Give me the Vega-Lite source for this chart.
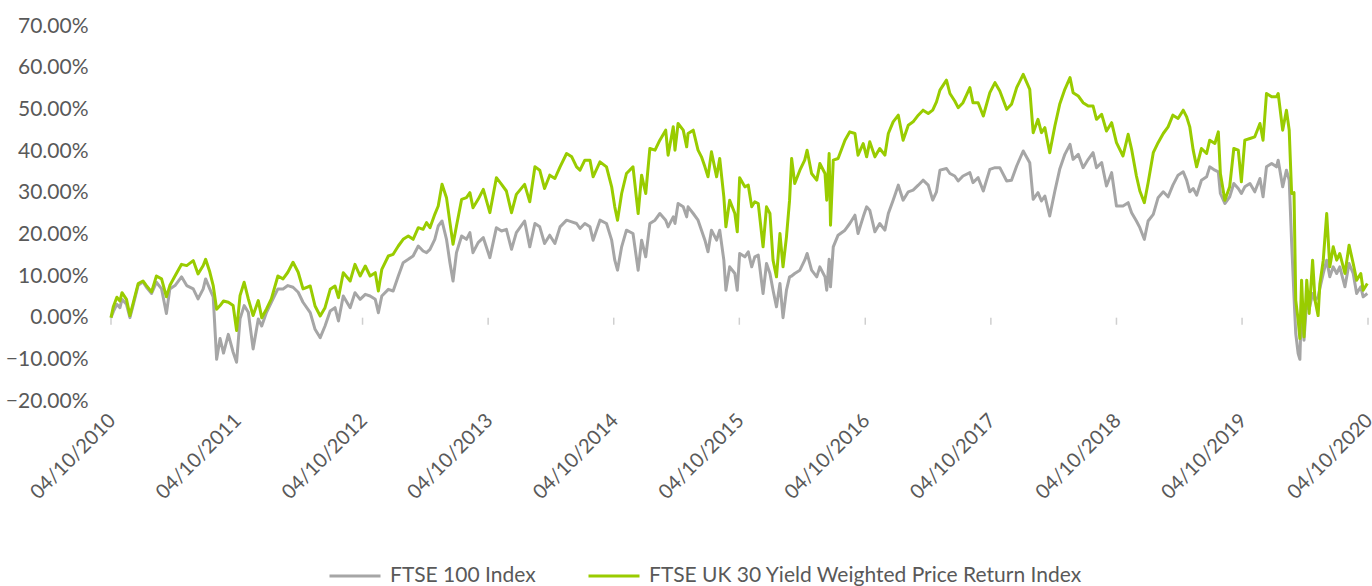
{
  "$schema": "https://vega.github.io/schema/vega-lite/v6.json",
  "width": 1257,
  "height": 375,
  "autosize": {"type": "none"},
  "padding": {"left": 111, "top": 26, "right": 4, "bottom": 185},
  "background": "white",
  "config": {
    "view": {"stroke": null},
    "font": "Lato",
    "axis": {"labelFont": "Lato", "labelFontSize": 21, "labelColor": "#595959"}
  },
  "encoding": {
    "x": {
      "field": "d",
      "type": "temporal",
      "title": null,
      "scale": {
        "type": "utc",
        "domain": [
          {"year": 2010, "month": 10, "date": 4, "utc": true},
          {"year": 2020, "month": 10, "date": 4, "utc": true}
        ]
      },
      "axis": {
        "domain": false,
        "ticks": false,
        "grid": false,
        "labelAngle": -45,
        "labelPadding": 9,
        "labelOffset": -6,
        "labelFontSize": 20,
        "labelFlush": false,
        "labelOverlap": false,
        "labelExpr": "utcFormat(datum.value, '%d/%m/%Y')",
        "values": [
          {"year": 2010, "month": 10, "date": 4, "utc": true},
          {"year": 2011, "month": 10, "date": 4, "utc": true},
          {"year": 2012, "month": 10, "date": 4, "utc": true},
          {"year": 2013, "month": 10, "date": 4, "utc": true},
          {"year": 2014, "month": 10, "date": 4, "utc": true},
          {"year": 2015, "month": 10, "date": 4, "utc": true},
          {"year": 2016, "month": 10, "date": 4, "utc": true},
          {"year": 2017, "month": 10, "date": 4, "utc": true},
          {"year": 2018, "month": 10, "date": 4, "utc": true},
          {"year": 2019, "month": 10, "date": 4, "utc": true},
          {"year": 2020, "month": 10, "date": 4, "utc": true}
        ]
      }
    }
  },
  "layer": [
    {
      "data": {"values": [
        {"d": "2010-10-04"}, {"d": "2011-10-04"}, {"d": "2012-10-04"}, {"d": "2013-10-04"},
        {"d": "2014-10-04"}, {"d": "2015-10-04"}, {"d": "2016-10-04"}, {"d": "2017-10-04"},
        {"d": "2018-10-04"}, {"d": "2019-10-04"}, {"d": "2020-10-04"}
      ]},
      "mark": {"type": "rule", "color": "#cfcfcf", "strokeWidth": 1.5},
      "encoding": {
        "y": {"datum": 0, "type": "quantitative"},
        "y2": {"datum": -1.7}
      }
    },
    {
      "data": {"values": [
        {"d": "2010-10-04", "f": 0, "g": 0},
        {"d": "2010-10-11", "f": 1.5, "g": 2.7},
        {"d": "2010-10-21", "f": 3.2, "g": 4.9},
        {"d": "2010-10-30", "f": 2.4, "g": 4.0},
        {"d": "2010-11-05", "f": 4.4, "g": 6.0},
        {"d": "2010-11-18", "f": 3.2, "g": 4.4},
        {"d": "2010-11-28", "f": 0.0, "g": 0.5},
        {"d": "2010-12-08", "f": 3.2, "g": 3.7},
        {"d": "2010-12-22", "f": 7.8, "g": 8.2},
        {"d": "2011-01-05", "f": 8.6, "g": 8.8},
        {"d": "2011-01-15", "f": 7.3, "g": 7.7},
        {"d": "2011-01-30", "f": 5.8, "g": 6.2},
        {"d": "2011-02-13", "f": 8.5, "g": 10.0},
        {"d": "2011-02-28", "f": 6.9, "g": 9.3},
        {"d": "2011-03-14", "f": 1.0, "g": 5.0},
        {"d": "2011-03-24", "f": 6.9, "g": 7.7},
        {"d": "2011-04-08", "f": 7.7, "g": 10.0},
        {"d": "2011-04-27", "f": 9.8, "g": 12.8},
        {"d": "2011-05-12", "f": 7.7, "g": 12.5},
        {"d": "2011-05-31", "f": 6.9, "g": 13.7},
        {"d": "2011-06-14", "f": 4.5, "g": 10.5},
        {"d": "2011-06-29", "f": 6.9, "g": 12.5},
        {"d": "2011-07-06", "f": 9.3, "g": 14.0},
        {"d": "2011-07-18", "f": 6.9, "g": 11.0},
        {"d": "2011-07-28", "f": 5.0, "g": 7.7},
        {"d": "2011-08-07", "f": -10.0, "g": 2.0},
        {"d": "2011-08-17", "f": -5.0, "g": 2.9},
        {"d": "2011-08-27", "f": -8.5, "g": 4.0},
        {"d": "2011-09-10", "f": -4.0, "g": 3.7},
        {"d": "2011-09-24", "f": -8.3, "g": 2.9},
        {"d": "2011-10-04", "f": -10.7, "g": -3.1},
        {"d": "2011-10-14", "f": -0.3, "g": 5.3},
        {"d": "2011-10-26", "f": 2.9, "g": 8.5},
        {"d": "2011-11-07", "f": 1.3, "g": 4.5},
        {"d": "2011-11-21", "f": -7.5, "g": 0.5},
        {"d": "2011-12-06", "f": -0.3, "g": 4.1},
        {"d": "2011-12-16", "f": -2.0, "g": 0.0},
        {"d": "2011-12-30", "f": 1.3, "g": 2.1},
        {"d": "2012-01-13", "f": 3.7, "g": 4.5},
        {"d": "2012-02-01", "f": 6.9, "g": 10.0},
        {"d": "2012-02-16", "f": 6.9, "g": 9.3},
        {"d": "2012-03-01", "f": 7.7, "g": 10.9},
        {"d": "2012-03-16", "f": 7.3, "g": 13.3},
        {"d": "2012-03-31", "f": 6.1, "g": 10.9},
        {"d": "2012-04-14", "f": 3.7, "g": 6.9},
        {"d": "2012-05-05", "f": 1.2, "g": 7.6},
        {"d": "2012-05-19", "f": -2.8, "g": 2.8},
        {"d": "2012-06-03", "f": -4.8, "g": 0.4},
        {"d": "2012-06-17", "f": -2.0, "g": 2.4},
        {"d": "2012-07-02", "f": 1.6, "g": 6.8},
        {"d": "2012-07-16", "f": 2.4, "g": 7.6},
        {"d": "2012-07-26", "f": -0.8, "g": 4.8},
        {"d": "2012-08-09", "f": 5.2, "g": 10.8},
        {"d": "2012-08-29", "f": 2.4, "g": 8.8},
        {"d": "2012-09-12", "f": 6.0, "g": 12.8},
        {"d": "2012-09-27", "f": 4.4, "g": 10.0},
        {"d": "2012-10-12", "f": 5.6, "g": 12.4},
        {"d": "2012-10-26", "f": 5.2, "g": 10.0},
        {"d": "2012-11-10", "f": 4.4, "g": 10.8},
        {"d": "2012-11-19", "f": 1.2, "g": 6.4},
        {"d": "2012-11-29", "f": 5.2, "g": 11.6},
        {"d": "2012-12-18", "f": 6.8, "g": 14.8},
        {"d": "2013-01-01", "f": 6.4, "g": 15.2},
        {"d": "2013-01-16", "f": 10.0, "g": 17.2},
        {"d": "2013-01-30", "f": 13.2, "g": 18.8},
        {"d": "2013-02-14", "f": 14.0, "g": 19.6},
        {"d": "2013-02-28", "f": 14.8, "g": 18.8},
        {"d": "2013-03-15", "f": 17.2, "g": 21.6},
        {"d": "2013-03-29", "f": 16.0, "g": 21.2},
        {"d": "2013-04-08", "f": 15.6, "g": 22.8},
        {"d": "2013-04-18", "f": 16.4, "g": 21.6},
        {"d": "2013-05-02", "f": 18.8, "g": 24.8},
        {"d": "2013-05-12", "f": 22.0, "g": 26.8},
        {"d": "2013-05-23", "f": 23.2, "g": 32.0},
        {"d": "2013-06-05", "f": 18.8, "g": 28.8},
        {"d": "2013-06-15", "f": 13.2, "g": 22.8},
        {"d": "2013-06-24", "f": 8.8, "g": 17.6},
        {"d": "2013-07-04", "f": 15.6, "g": 22.0},
        {"d": "2013-07-19", "f": 19.6, "g": 28.4},
        {"d": "2013-08-02", "f": 18.8, "g": 28.8},
        {"d": "2013-08-12", "f": 20.4, "g": 30.0},
        {"d": "2013-08-21", "f": 15.6, "g": 26.4},
        {"d": "2013-09-05", "f": 18.0, "g": 28.4},
        {"d": "2013-09-20", "f": 19.2, "g": 30.8},
        {"d": "2013-10-09", "f": 14.4, "g": 25.2},
        {"d": "2013-10-28", "f": 21.6, "g": 33.6},
        {"d": "2013-11-12", "f": 20.8, "g": 32.0},
        {"d": "2013-11-26", "f": 21.2, "g": 30.4},
        {"d": "2013-12-11", "f": 16.4, "g": 25.2},
        {"d": "2013-12-25", "f": 20.4, "g": 29.6},
        {"d": "2014-01-18", "f": 23.2, "g": 32.0},
        {"d": "2014-02-02", "f": 17.0, "g": 27.8},
        {"d": "2014-02-17", "f": 22.6, "g": 36.2},
        {"d": "2014-03-03", "f": 21.8, "g": 35.4},
        {"d": "2014-03-17", "f": 17.8, "g": 31.0},
        {"d": "2014-04-01", "f": 19.8, "g": 34.2},
        {"d": "2014-04-16", "f": 17.8, "g": 33.4},
        {"d": "2014-05-01", "f": 21.8, "g": 36.2},
        {"d": "2014-05-20", "f": 23.4, "g": 39.4},
        {"d": "2014-06-04", "f": 23.0, "g": 38.6},
        {"d": "2014-06-18", "f": 22.6, "g": 36.2},
        {"d": "2014-06-28", "f": 21.4, "g": 35.4},
        {"d": "2014-07-12", "f": 22.6, "g": 37.8},
        {"d": "2014-07-27", "f": 21.8, "g": 37.8},
        {"d": "2014-08-05", "f": 18.6, "g": 33.8},
        {"d": "2014-08-25", "f": 23.4, "g": 37.4},
        {"d": "2014-09-13", "f": 22.6, "g": 36.2},
        {"d": "2014-09-28", "f": 18.6, "g": 31.4},
        {"d": "2014-10-07", "f": 13.8, "g": 26.6},
        {"d": "2014-10-15", "f": 11.4, "g": 23.4},
        {"d": "2014-10-27", "f": 17.0, "g": 29.8},
        {"d": "2014-11-10", "f": 21.0, "g": 34.6},
        {"d": "2014-11-29", "f": 20.2, "g": 36.2},
        {"d": "2014-12-14", "f": 11.4, "g": 25.0},
        {"d": "2014-12-24", "f": 18.6, "g": 34.2},
        {"d": "2015-01-05", "f": 14.6, "g": 29.8},
        {"d": "2015-01-17", "f": 22.6, "g": 40.6},
        {"d": "2015-02-01", "f": 23.4, "g": 40.2},
        {"d": "2015-02-15", "f": 25.0, "g": 42.6},
        {"d": "2015-03-04", "f": 23.4, "g": 45.0},
        {"d": "2015-03-11", "f": 21.8, "g": 39.0},
        {"d": "2015-03-26", "f": 24.2, "g": 45.8},
        {"d": "2015-03-31", "f": 22.6, "g": 40.2},
        {"d": "2015-04-09", "f": 27.4, "g": 46.6},
        {"d": "2015-04-24", "f": 26.6, "g": 45.0},
        {"d": "2015-05-04", "f": 24.2, "g": 41.0},
        {"d": "2015-05-08", "f": 26.6, "g": 44.2},
        {"d": "2015-05-23", "f": 25.0, "g": 45.0},
        {"d": "2015-06-06", "f": 23.4, "g": 40.2},
        {"d": "2015-06-16", "f": 21.0, "g": 38.6},
        {"d": "2015-06-26", "f": 18.6, "g": 36.2},
        {"d": "2015-07-05", "f": 15.8, "g": 33.8},
        {"d": "2015-07-15", "f": 21.0, "g": 39.8},
        {"d": "2015-07-30", "f": 18.6, "g": 33.8},
        {"d": "2015-08-08", "f": 21.0, "g": 38.2},
        {"d": "2015-08-20", "f": 13.8, "g": 29.0},
        {"d": "2015-08-26", "f": 6.6, "g": 21.8},
        {"d": "2015-09-06", "f": 12.2, "g": 28.2},
        {"d": "2015-09-21", "f": 10.6, "g": 25.0},
        {"d": "2015-09-28", "f": 6.6, "g": 20.6},
        {"d": "2015-10-05", "f": 15.4, "g": 33.6},
        {"d": "2015-10-20", "f": 14.6, "g": 31.4},
        {"d": "2015-10-30", "f": 15.8, "g": 31.8},
        {"d": "2015-11-09", "f": 12.2, "g": 26.6},
        {"d": "2015-11-18", "f": 14.6, "g": 27.8},
        {"d": "2015-11-28", "f": 15.0, "g": 27.4},
        {"d": "2015-12-12", "f": 5.8, "g": 17.0},
        {"d": "2015-12-22", "f": 13.0, "g": 26.6},
        {"d": "2016-01-01", "f": 10.6, "g": 25.0},
        {"d": "2016-01-10", "f": 6.6, "g": 13.8},
        {"d": "2016-01-20", "f": 2.6, "g": 9.8},
        {"d": "2016-01-30", "f": 8.2, "g": 20.2},
        {"d": "2016-02-08", "f": 0.0, "g": 12.2},
        {"d": "2016-02-18", "f": 6.6, "g": 19.4},
        {"d": "2016-02-27", "f": 9.8, "g": 28.2},
        {"d": "2016-03-04", "f": 10.0, "g": 38.2},
        {"d": "2016-03-13", "f": 10.6, "g": 32.2},
        {"d": "2016-03-28", "f": 11.4, "g": 35.4},
        {"d": "2016-04-11", "f": 13.8, "g": 37.8},
        {"d": "2016-04-18", "f": 15.4, "g": 40.2},
        {"d": "2016-05-01", "f": 11.4, "g": 34.6},
        {"d": "2016-05-16", "f": 9.8, "g": 33.0},
        {"d": "2016-05-25", "f": 12.2, "g": 37.0},
        {"d": "2016-06-09", "f": 9.8, "g": 34.6},
        {"d": "2016-06-14", "f": 6.6, "g": 28.2},
        {"d": "2016-06-21", "f": 14.0, "g": 39.4},
        {"d": "2016-06-25", "f": 7.4, "g": 22.2},
        {"d": "2016-07-03", "f": 17.0, "g": 37.8},
        {"d": "2016-07-17", "f": 19.8, "g": 38.2},
        {"d": "2016-08-06", "f": 21.0, "g": 42.6},
        {"d": "2016-08-20", "f": 22.6, "g": 44.6},
        {"d": "2016-09-04", "f": 24.6, "g": 44.2},
        {"d": "2016-09-13", "f": 20.2, "g": 39.0},
        {"d": "2016-09-28", "f": 24.2, "g": 41.8},
        {"d": "2016-10-08", "f": 26.6, "g": 38.6},
        {"d": "2016-10-17", "f": 25.8, "g": 42.2},
        {"d": "2016-11-01", "f": 20.6, "g": 38.6},
        {"d": "2016-11-15", "f": 22.6, "g": 40.6},
        {"d": "2016-11-30", "f": 21.0, "g": 39.0},
        {"d": "2016-12-10", "f": 25.0, "g": 44.2},
        {"d": "2016-12-24", "f": 28.2, "g": 47.0},
        {"d": "2017-01-08", "f": 31.8, "g": 48.6},
        {"d": "2017-01-22", "f": 28.2, "g": 42.6},
        {"d": "2017-02-06", "f": 30.2, "g": 46.2},
        {"d": "2017-02-20", "f": 30.6, "g": 47.0},
        {"d": "2017-03-07", "f": 31.8, "g": 48.6},
        {"d": "2017-03-21", "f": 33.0, "g": 49.8},
        {"d": "2017-04-05", "f": 31.8, "g": 49.0},
        {"d": "2017-04-18", "f": 28.2, "g": 49.8},
        {"d": "2017-04-29", "f": 30.2, "g": 51.8},
        {"d": "2017-05-09", "f": 35.4, "g": 54.6},
        {"d": "2017-05-28", "f": 35.8, "g": 57.0},
        {"d": "2017-06-07", "f": 34.6, "g": 53.8},
        {"d": "2017-06-21", "f": 34.0, "g": 52.0},
        {"d": "2017-07-01", "f": 32.8, "g": 50.4},
        {"d": "2017-07-15", "f": 34.0, "g": 51.6},
        {"d": "2017-08-04", "f": 34.8, "g": 55.2},
        {"d": "2017-08-13", "f": 32.4, "g": 51.6},
        {"d": "2017-08-28", "f": 33.6, "g": 51.6},
        {"d": "2017-09-12", "f": 30.4, "g": 48.4},
        {"d": "2017-10-01", "f": 35.6, "g": 54.0},
        {"d": "2017-10-16", "f": 36.0, "g": 56.4},
        {"d": "2017-10-30", "f": 36.0, "g": 54.4},
        {"d": "2017-11-19", "f": 32.8, "g": 50.0},
        {"d": "2017-12-03", "f": 33.0, "g": 51.2},
        {"d": "2017-12-18", "f": 36.4, "g": 55.2},
        {"d": "2018-01-06", "f": 40.0, "g": 58.4},
        {"d": "2018-01-25", "f": 37.2, "g": 54.8},
        {"d": "2018-02-04", "f": 28.4, "g": 44.4},
        {"d": "2018-02-18", "f": 30.0, "g": 47.6},
        {"d": "2018-02-28", "f": 28.0, "g": 44.4},
        {"d": "2018-03-10", "f": 29.2, "g": 45.6},
        {"d": "2018-03-24", "f": 24.4, "g": 39.6},
        {"d": "2018-04-08", "f": 30.4, "g": 46.0},
        {"d": "2018-04-22", "f": 35.6, "g": 51.2},
        {"d": "2018-05-07", "f": 39.2, "g": 54.8},
        {"d": "2018-05-22", "f": 41.6, "g": 57.6},
        {"d": "2018-05-31", "f": 38.0, "g": 54.0},
        {"d": "2018-06-15", "f": 39.2, "g": 53.2},
        {"d": "2018-06-29", "f": 36.0, "g": 51.6},
        {"d": "2018-07-14", "f": 38.0, "g": 50.8},
        {"d": "2018-07-28", "f": 39.6, "g": 50.8},
        {"d": "2018-08-07", "f": 36.0, "g": 47.6},
        {"d": "2018-08-22", "f": 37.2, "g": 48.8},
        {"d": "2018-09-05", "f": 31.6, "g": 44.8},
        {"d": "2018-09-20", "f": 34.8, "g": 46.8},
        {"d": "2018-10-04", "f": 26.8, "g": 42.0},
        {"d": "2018-10-23", "f": 26.8, "g": 38.8},
        {"d": "2018-11-07", "f": 27.6, "g": 44.0},
        {"d": "2018-11-17", "f": 25.2, "g": 40.4},
        {"d": "2018-12-01", "f": 23.2, "g": 34.0},
        {"d": "2018-12-11", "f": 21.6, "g": 30.4},
        {"d": "2018-12-24", "f": 18.8, "g": 27.6},
        {"d": "2019-01-04", "f": 23.2, "g": 32.4},
        {"d": "2019-01-19", "f": 24.8, "g": 39.6},
        {"d": "2019-02-02", "f": 28.8, "g": 42.0},
        {"d": "2019-02-17", "f": 30.2, "g": 44.2},
        {"d": "2019-03-03", "f": 29.0, "g": 45.8},
        {"d": "2019-03-17", "f": 31.8, "g": 48.6},
        {"d": "2019-04-01", "f": 34.2, "g": 47.8},
        {"d": "2019-04-16", "f": 35.0, "g": 49.8},
        {"d": "2019-04-26", "f": 33.0, "g": 48.2},
        {"d": "2019-05-05", "f": 30.2, "g": 45.8},
        {"d": "2019-05-15", "f": 31.0, "g": 40.2},
        {"d": "2019-05-25", "f": 29.4, "g": 36.2},
        {"d": "2019-06-08", "f": 33.0, "g": 40.6},
        {"d": "2019-06-23", "f": 33.8, "g": 39.4},
        {"d": "2019-07-02", "f": 36.2, "g": 42.6},
        {"d": "2019-07-17", "f": 35.4, "g": 41.8},
        {"d": "2019-07-27", "f": 35.0, "g": 44.6},
        {"d": "2019-08-02", "f": 29.8, "g": 34.6},
        {"d": "2019-08-15", "f": 27.4, "g": 28.2},
        {"d": "2019-08-29", "f": 29.0, "g": 31.4},
        {"d": "2019-09-10", "f": 32.2, "g": 40.6},
        {"d": "2019-09-23", "f": 31.0, "g": 40.2},
        {"d": "2019-10-02", "f": 29.8, "g": 32.6},
        {"d": "2019-10-12", "f": 31.4, "g": 42.6},
        {"d": "2019-10-27", "f": 32.2, "g": 43.0},
        {"d": "2019-11-10", "f": 30.2, "g": 43.4},
        {"d": "2019-11-25", "f": 33.4, "g": 46.6},
        {"d": "2019-12-04", "f": 29.0, "g": 42.6},
        {"d": "2019-12-14", "f": 36.2, "g": 53.8},
        {"d": "2019-12-29", "f": 37.0, "g": 53.0},
        {"d": "2020-01-12", "f": 36.2, "g": 53.0},
        {"d": "2020-01-17", "f": 37.8, "g": 53.8},
        {"d": "2020-01-30", "f": 31.4, "g": 45.0},
        {"d": "2020-02-10", "f": 35.4, "g": 49.8},
        {"d": "2020-02-18", "f": 33.0, "g": 45.0},
        {"d": "2020-02-25", "f": 18.2, "g": 29.8},
        {"d": "2020-03-03", "f": 5.0, "g": 30.0},
        {"d": "2020-03-08", "f": -3.8, "g": 4.2},
        {"d": "2020-03-15", "f": -8.6, "g": -0.6},
        {"d": "2020-03-20", "f": -10.0, "g": -5.0},
        {"d": "2020-03-25", "f": 4.2, "g": 9.0},
        {"d": "2020-04-01", "f": -5.4, "g": -4.6},
        {"d": "2020-04-09", "f": 4.2, "g": 9.0},
        {"d": "2020-04-16", "f": 2.0, "g": 1.0},
        {"d": "2020-04-26", "f": 5.8, "g": 13.8},
        {"d": "2020-05-03", "f": 4.2, "g": 4.2},
        {"d": "2020-05-12", "f": 5.0, "g": 0.5},
        {"d": "2020-05-17", "f": 7.0, "g": 8.0},
        {"d": "2020-05-27", "f": 10.6, "g": 13.8},
        {"d": "2020-06-06", "f": 13.8, "g": 25.0},
        {"d": "2020-06-15", "f": 9.8, "g": 12.2},
        {"d": "2020-06-25", "f": 12.2, "g": 17.0},
        {"d": "2020-07-05", "f": 10.6, "g": 13.8},
        {"d": "2020-07-14", "f": 12.2, "g": 15.4},
        {"d": "2020-07-29", "f": 7.4, "g": 10.6},
        {"d": "2020-08-10", "f": 13.0, "g": 17.4},
        {"d": "2020-08-22", "f": 10.6, "g": 13.0},
        {"d": "2020-09-01", "f": 5.8, "g": 9.0},
        {"d": "2020-09-13", "f": 7.4, "g": 10.6},
        {"d": "2020-09-20", "f": 5.0, "g": 6.6},
        {"d": "2020-10-02", "f": 5.8, "g": 8.2}
      ]},
      "transform": [{"fold": ["f", "g"], "as": ["s", "v"]}],
      "mark": {"type": "line", "strokeWidth": 3, "strokeJoin": "round"},
      "encoding": {
        "y": {
          "field": "v",
          "type": "quantitative",
          "title": null,
          "scale": {"domain": [-20, 70], "nice": false, "zero": false},
          "axis": {
            "domain": false,
            "ticks": false,
            "tickSize": 0,
            "labelPadding": 23,
            "gridColor": "#d9d9d9",
            "gridWidth": 1.3,
            "values": [-20, -10, 0, 10, 20, 30, 40, 50, 60, 70],
            "labelExpr": "format(datum.value, '.2f') + '%'"
          }
        },
        "color": {
          "field": "s",
          "type": "nominal",
          "scale": {"domain": ["f", "g"], "range": ["#A6A6A6", "#99CC00"]},
          "legend": {
            "orient": "none",
            "legendX": 217,
            "legendY": 523,
            "direction": "horizontal",
            "title": null,
            "symbolType": "stroke",
            "symbolSize": 2601,
            "symbolStrokeWidth": 3,
            "labelFont": "Lato",
            "labelFontSize": 21,
            "labelColor": "#595959",
            "labelOffset": 8,
            "labelLimit": 700,
            "columnPadding": 46,
            "labelExpr": "datum.label == 'f' ? 'FTSE 100 Index' : 'FTSE UK 30 Yield Weighted Price Return Index'"
          }
        }
      }
    }
  ]
}
